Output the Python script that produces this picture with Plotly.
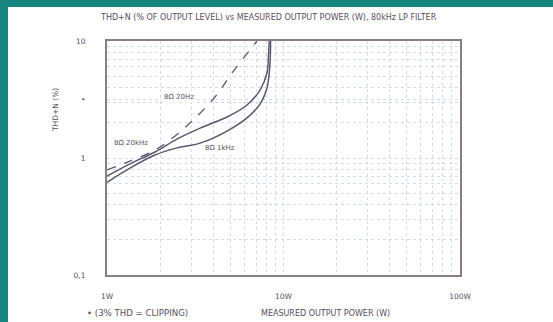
import plotly.graph_objects as go

# Data (power in W, THD+N in %)
p_20hz = [1.0, 1.35, 1.87, 2.28, 2.95, 4.09, 5.11, 7.08]
thd_20hz = [0.79, 0.94, 1.17, 1.43, 1.99, 3.32, 5.33, 10.0]

p_20khz = [1.0, 1.35, 1.87, 2.49, 3.37, 4.79, 6.21, 7.36, 8.06, 8.22, 8.3]
thd_20khz = [0.70, 0.89, 1.125, 1.45, 1.80, 2.24, 2.84, 3.81, 5.33, 7.59, 10.0]

p_1khz = [1.0, 1.35, 1.87, 2.49, 3.37, 4.79, 6.21, 7.36, 8.06, 8.35, 8.45]
thd_1khz = [0.62, 0.82, 1.06, 1.22, 1.34, 1.70, 2.20, 2.89, 3.97, 5.88, 10.0]

x_tickvals = [1, 10, 100]
x_ticktext = ["1W", "10W", "100W"]
y_tickvals = [0.1, 1, 3.162, 10]
y_ticktext = ["0,1", "1", "•", "10"]

LINE = "#5e5470"
TXT = "#5a4e60"
GRID = "#cfdcea"
FONT = "DejaVu Sans"

fig = go.Figure()
fig.add_trace(go.Scatter(x=p_20hz, y=thd_20hz, mode="lines",
                         line=dict(color=LINE, width=1.3, dash="dash", shape="spline"),
                         showlegend=False))
fig.add_trace(go.Scatter(x=p_20khz, y=thd_20khz, mode="lines",
                         line=dict(color=LINE, width=1.5, shape="spline"),
                         showlegend=False))
fig.add_trace(go.Scatter(x=p_1khz, y=thd_1khz, mode="lines",
                         line=dict(color=LINE, width=1.5, shape="spline"),
                         showlegend=False))

L, R, T, B = 107, 93, 41, 47
W, H = 553, 322
pw, ph = W - L - R, H - T - B

def px(xp):
    return (xp - L) / pw

def py(yp):
    return (H - B - yp) / ph

# white panel on teal background
fig.add_shape(type="rect", xref="paper", yref="paper",
              x0=px(8), x1=px(560), y0=py(330), y1=py(7),
              fillcolor="white", line=dict(width=0), layer="below")

axis_common = dict(
    type="log", showline=True, mirror=True, linecolor="#8a7e80", linewidth=2,
    showgrid=True, gridcolor=GRID, griddash="dot", gridwidth=1,
    zeroline=False, ticks="", tickfont=dict(family=FONT, size=7.5, color=TXT),
)

fig.update_xaxes(**axis_common, range=[0, 2], tickvals=x_tickvals, ticktext=x_ticktext,
                 ticklabelstandoff=13,
                 minor=dict(showgrid=True, gridcolor=GRID, griddash="dot", dtick="D1"))
fig.update_yaxes(**axis_common, range=[-1, 1], tickvals=y_tickvals, ticktext=y_ticktext,
                 ticklabelstandoff=18,
                 minor=dict(showgrid=True, gridcolor=GRID, griddash="dot", dtick="D1"))

ann = [
    dict(text="THD+N (% OF OUTPUT LEVEL) vs MEASURED OUTPUT POWER (W), 80kHz LP FILTER",
         x=px(268), y=py(18), size=8.0),
    dict(text="• (3% THD = CLIPPING)", x=px(137), y=py(313), size=8.6),
    dict(text="MEASURED OUTPUT POWER (W)", x=px(325), y=py(313), size=8.0),
]
for a in ann:
    fig.add_annotation(text=a["text"], xref="paper", yref="paper", x=a["x"], y=a["y"],
                       showarrow=False, xanchor="center", yanchor="middle",
                       font=dict(family=FONT, size=a["size"], color=TXT))

fig.add_annotation(text="THD+N (%)", xref="paper", yref="paper", x=px(56), y=py(110),
                   showarrow=False, textangle=-90, xanchor="center", yanchor="middle",
                   font=dict(family=FONT, size=7.5, color=TXT))

curve_labels = [("8Ω 20Hz", 179, 97), ("8Ω 20kHz", 131, 143), ("8Ω 1kHz", 220, 148)]
for t, xp, yp in curve_labels:
    fig.add_annotation(text=t, xref="paper", yref="paper", x=px(xp), y=py(yp),
                       showarrow=False, xanchor="center", yanchor="middle",
                       bgcolor="white",
                       font=dict(family=FONT, size=7, color=TXT))

fig.update_layout(
    width=W, height=H, margin=dict(l=L, r=R, t=T, b=B),
    paper_bgcolor="#16867f", plot_bgcolor="rgba(0,0,0,0)",
    showlegend=False,
)

fig.write_html("out.html", config={"displayModeBar": False},
               post_script="document.body.style.margin='0';document.body.style.overflow='hidden';")
